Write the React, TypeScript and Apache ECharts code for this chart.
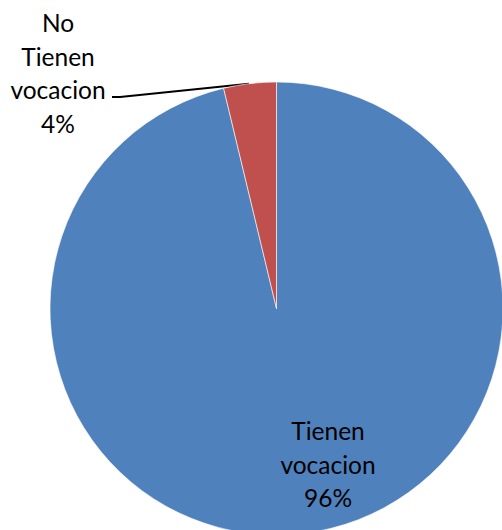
import React, { useEffect, useRef } from "react";
import * as echarts from "echarts";

const categories = ["Tienen vocacion", "No Tienen vocacion"];
const values = [96.25, 3.75];
const colors = ["#4F81BD", "#C0504D"];

export default function App() {
  const ref = useRef<HTMLDivElement>(null);
  useEffect(() => {
    if (!ref.current) return;
    const chart = echarts.init(ref.current, null, { renderer: "svg" });
    const data = categories.map((name, i) => ({
      name,
      value: values[i],
      itemStyle: { color: colors[i] },
      label: { position: i === 0 ? "inside" : "outside" },
      labelLine: { show: i === 1 },
    }));
    chart.setOption({
      animation: false,
      backgroundColor: "#ffffff",
      series: [
        {
          type: "pie",
          center: [276.5, 308.5],
          radius: 226.5,
          startAngle: 90,
          clockwise: true,
          data,
          itemStyle: { borderColor: "#ffffff", borderWidth: 0.6 },
          label: {
            show: true,
            color: "#000000",
            fontFamily: "Lato",
            fontSize: 24.5,
            lineHeight: 33.5,
            align: "center",
            formatter: (p: any) =>
              p.name.split(" ").join("\n") + "\n" + Math.round(p.percent) + "%",
          },
          labelLine: {
            show: true,
            lineStyle: { color: "#000000", width: 2 },
          },
          labelLayout: (params: any) => {
            if (params.dataIndex === 0) {
              return { x: 328, y: 464, align: "center", verticalAlign: "middle" };
            }
            return {
              x: 58,
              y: 73,
              align: "center",
              verticalAlign: "middle",
              labelLinePoints: [
                [249, 83.7],
                [120, 97],
                [112, 97],
              ],
            };
          },
        },
      ],
    });
    return () => chart.dispose();
  }, []);
  return (
    <div
      ref={ref}
      style={{ position: "absolute", left: 0, top: 0, width: 502, height: 530 }}
    />
  );
}
